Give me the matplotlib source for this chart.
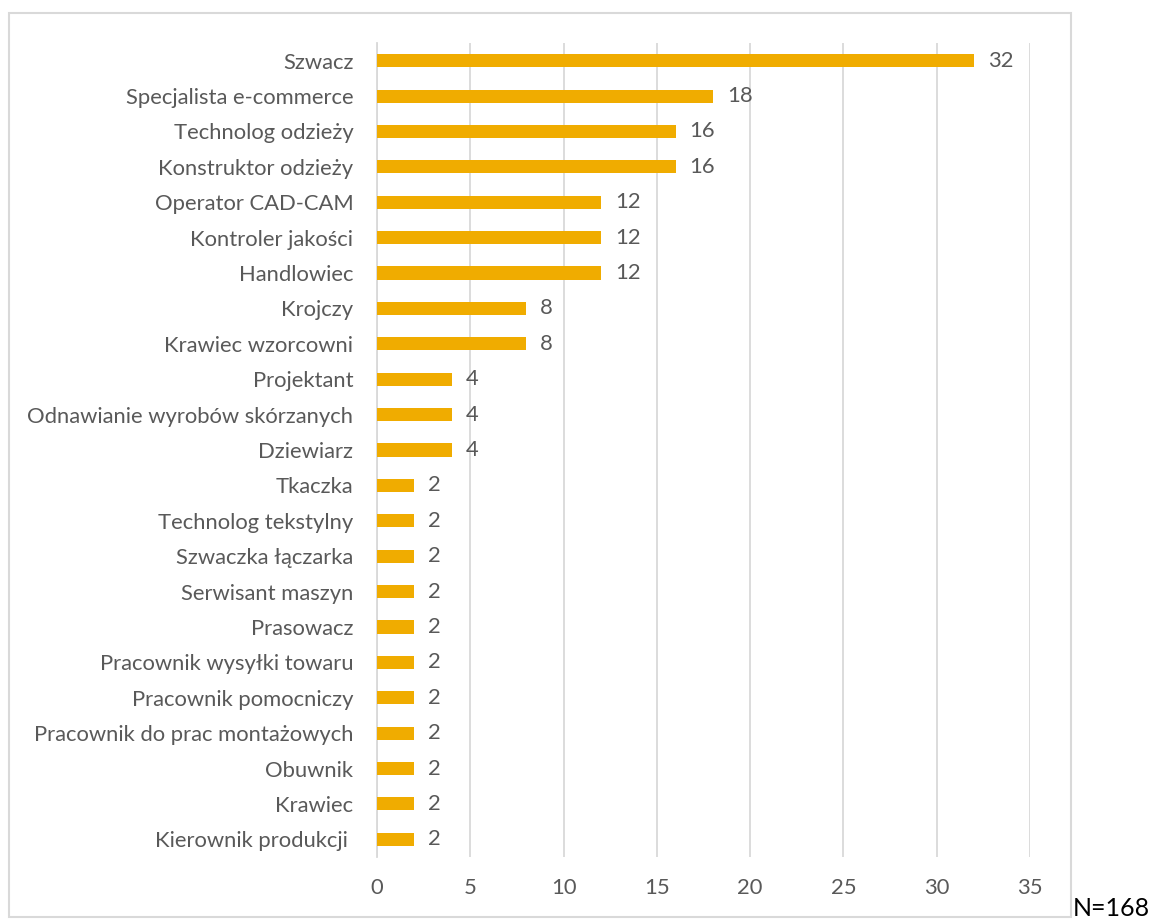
import matplotlib.pyplot as plt
from matplotlib.patches import Rectangle

# zawody i liczba wskazań
zawody = [
    "Szwacz", "Specjalista e-commerce", "Technolog odzieży", "Konstruktor odzieży",
    "Operator CAD-CAM", "Kontroler jakości", "Handlowiec", "Krojczy",
    "Krawiec wzorcowni", "Projektant", "Odnawianie wyrobów skórzanych", "Dziewiarz",
    "Tkaczka", "Technolog tekstylny", "Szwaczka łączarka", "Serwisant maszyn",
    "Prasowacz", "Pracownik wysyłki towaru", "Pracownik pomocniczy",
    "Pracownik do prac montażowych", "Obuwnik", "Krawiec", "Kierownik produkcji ",
]
wartosci = [32, 18, 16, 16, 12, 12, 12, 8, 8, 4, 4, 4, 2, 2, 2, 2, 2, 2, 2, 2, 2, 2, 2]
ticki = [0, 5, 10, 15, 20, 25, 30, 35]
podpis_n = "N=168"

KOLOR = "#F0AC00"
SZARY = "#595959"
SIATKA = "#D9D9D9"
FS = 15.8

plt.rcParams['font.family'] = ['Lato', 'DejaVu Sans']

W, H = 1154, 922
fig = plt.figure(figsize=(W / 100, H / 100), dpi=100)
ax = fig.add_axes([377 / W, 1 - 857 / H, (1030 - 377) / W, (857 - 43) / H])

y = list(range(len(zawody)))
ax.barh(y, wartosci, height=0.37, color=KOLOR, zorder=3)
for yi, v in zip(y, wartosci):
    ax.annotate(str(v), (v, yi), xytext=(10, 0), textcoords='offset points',
                va='center', ha='left', fontsize=FS, color=SZARY)

ax.set_xlim(0, 35)
ax.set_ylim(len(zawody) - 0.5, -0.5)
ax.set_xticks(ticki)
ax.set_yticks(y)
ax.set_yticklabels(zawody)
ax.tick_params(axis='both', length=0, colors=SZARY, labelsize=FS)
ax.tick_params(axis='x', pad=15)
ax.tick_params(axis='y', pad=17)
ax.grid(axis='x', color=SIATKA, linewidth=1.3, zorder=0)
for s in ['top', 'right', 'bottom']:
    ax.spines[s].set_visible(False)
ax.spines['left'].set_color(SIATKA)
ax.spines['left'].set_linewidth(1.3)

# ramka wykresu
fig.patches.append(Rectangle((9 / W, 1 - 917 / H), (1071 - 9) / W, (917 - 13) / H,
                             transform=fig.transFigure, fill=False,
                             edgecolor=SIATKA, linewidth=1.5))
fig.text(1073 / W, 1 - 916 / H, podpis_n, fontsize=18, color='black',
         ha='left', va='baseline')

fig.savefig('out.png', dpi=100)
